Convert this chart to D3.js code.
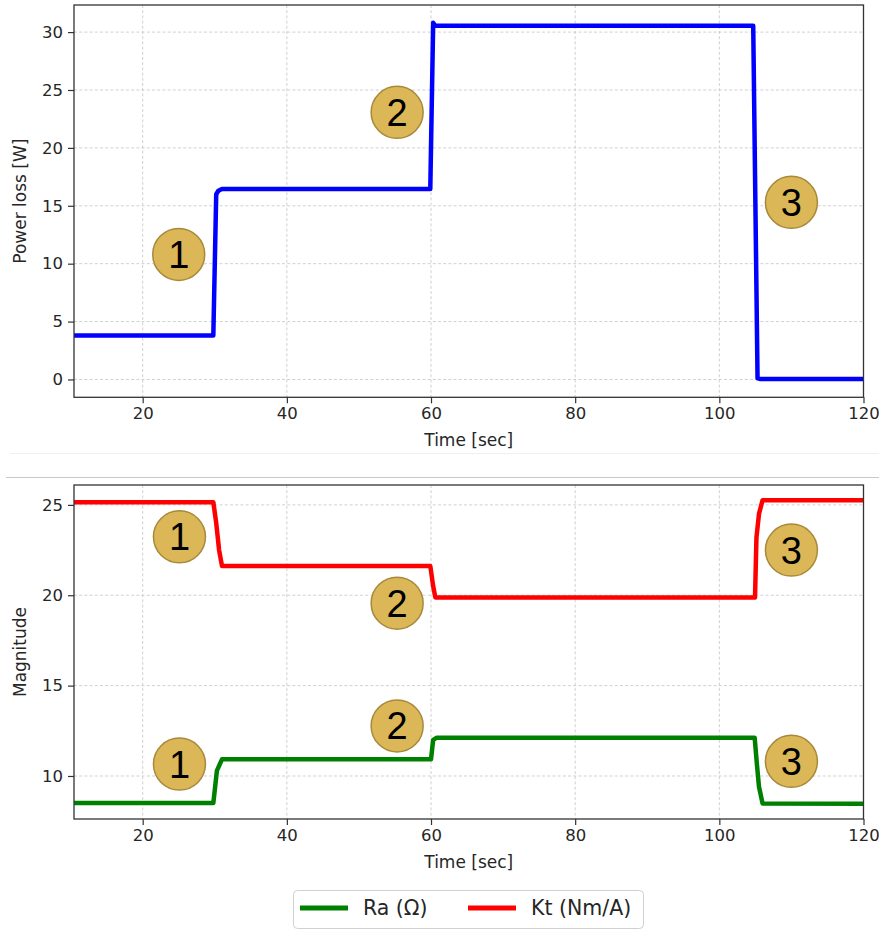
<!DOCTYPE html>
<html>
<head>
<meta charset="utf-8">
<script src="https://cdn.jsdelivr.net/npm/d3@7"></script>
<style>
  html, body { margin: 0; padding: 0; background: #fff; }
  svg { display: block; }
  text { font-family: "DejaVu Sans", sans-serif; }
</style>
</head>
<body>
<script>
// ---------- DATA ----------
const powerTime = [10.47, 29.8, 30.2, 30.5, 31.0, 59.9, 60.3, 60.6, 104.7, 105.3, 105.6, 120];
const powerLoss = [3.8, 3.8, 16.0, 16.3, 16.45, 16.45, 30.8, 30.55, 30.55, 0.1, 0.05, 0.05];

const raTime = [10.47, 29.8, 30.3, 31.0, 60.0, 60.3, 60.8, 104.9, 105.2, 105.5, 106.0, 120];
const raValues = [8.5, 8.5, 10.3, 10.92, 10.92, 12.0, 12.12, 12.12, 10.7, 9.4, 8.48, 8.46];

const ktTime = [10.47, 29.8, 30.2, 30.6, 31.0, 59.9, 60.3, 60.6, 104.95, 105.15, 105.5, 106.0, 120];
const ktValues = [25.15, 25.15, 24.0, 22.5, 21.62, 21.62, 20.5, 19.88, 19.88, 23.2, 24.5, 25.26, 25.26];

const xTicks = [20, 40, 60, 80, 100, 120];
const powerTicks = [0, 5, 10, 15, 20, 25, 30];
const magTicks = [10, 15, 20, 25];

const topMarkers = [ {n: "1", t: 25, v: 10.8}, {n: "2", t: 55.3, v: 23.07}, {n: "3", t: 110, v: 15.3} ];
const botMarkers = [ {n: "1", t: 25.1, v: 23.23}, {n: "1", t: 25.1, v: 10.66},
                     {n: "2", t: 55.3, v: 19.56}, {n: "2", t: 55.3, v: 12.77},
                     {n: "3", t: 110, v: 22.5}, {n: "3", t: 110, v: 10.81} ];

const seriesNames = ["Ra (\u03A9)", "Kt (Nm/A)"];
const seriesColors = ["#008000", "#ff0000"];

// ---------- LAYOUT ----------
const W = 879, H = 930;
const svg = d3.select("body").append("svg").attr("width", W).attr("height", H);
svg.append("rect").attr("width", W).attr("height", H).attr("fill", "#fff");

// separators
svg.append("line").attr("x1", 10).attr("x2", W).attr("y1", 453.5).attr("y2", 453.5)
  .attr("stroke", "#f0f0f0").attr("stroke-width", 1);
svg.append("line").attr("x1", 6).attr("x2", W).attr("y1", 477.5).attr("y2", 477.5)
  .attr("stroke", "#c8c8c8").attr("stroke-width", 1.2);

const FS = 16.5;
const LFS = 17;

function panel(cfg) {
  const { left, right, top, bottom, xDomain, yDomain, yTicks, yLabel } = cfg;
  const x = d3.scaleLinear().domain(xDomain).range([left, right]);
  const y = d3.scaleLinear().domain(yDomain).range([bottom, top]);
  const g = svg.append("g");

  // grid
  const grid = g.append("g").attr("stroke", "#c4c4c4").attr("stroke-width", 0.8)
    .attr("stroke-dasharray", "3,2.2");
  xTicks.forEach(t => grid.append("line").attr("x1", x(t)).attr("x2", x(t))
    .attr("y1", top).attr("y2", bottom));
  yTicks.forEach(t => grid.append("line").attr("x1", left).attr("x2", right)
    .attr("y1", y(t)).attr("y2", y(t)));

  // axes
  const xAxis = d3.axisBottom(x).tickValues(xTicks).tickSize(6).tickPadding(4).tickFormat(d3.format("d"));
  const yAxis = d3.axisLeft(y).tickValues(yTicks).tickSize(6).tickPadding(5).tickFormat(d3.format("d"));
  const gx = g.append("g").attr("transform", `translate(0,${bottom})`).call(xAxis);
  const gy = g.append("g").attr("transform", `translate(${left},0)`).call(yAxis);
  [gx, gy].forEach(a => {
    a.select(".domain").remove();
    a.selectAll(".tick line").attr("stroke", "#333").attr("stroke-width", 1.2);
    a.selectAll(".tick text").attr("fill", "#262626").style("font-size", FS + "px")
      .style("font-family", "DejaVu Sans, sans-serif");
  });

  // labels
  g.append("text").attr("x", (left + right) / 2).attr("y", bottom + 49)
    .attr("text-anchor", "middle").attr("fill", "#262626").style("font-size", LFS + "px")
    .text("Time [sec]");
  g.append("text").attr("transform", `translate(20,${(top + bottom) / 2}) rotate(-90)`)
    .attr("text-anchor", "middle").attr("dominant-baseline", "central")
    .attr("fill", "#262626").style("font-size", LFS + "px").text(yLabel);

  return { g, x, y, left, right, top, bottom };
}

function frame(p) {
  p.g.append("rect").attr("x", p.left).attr("y", p.top)
    .attr("width", p.right - p.left).attr("height", p.bottom - p.top)
    .attr("fill", "none").attr("stroke", "#333").attr("stroke-width", 1.3);
}

function drawLine(p, ts, vs, color) {
  const pts = ts.map((t, i) => [t, vs[i]]);
  const line = d3.line().x(d => p.x(d[0])).y(d => p.y(d[1]));
  p.g.append("path").datum(pts).attr("d", line).attr("fill", "none")
    .attr("stroke", color).attr("stroke-width", 4.5)
    .attr("stroke-linejoin", "round").attr("stroke-linecap", "butt");
}

function markers(p, list) {
  list.forEach(m => {
    const cx = p.x(m.t), cy = p.y(m.v);
    p.g.append("circle").attr("cx", cx).attr("cy", cy).attr("r", 26)
      .attr("fill", "#dcb757").attr("stroke", "#a8893c").attr("stroke-width", 1.5);
    p.g.append("text").attr("x", cx).attr("y", cy + 13.5)
      .attr("text-anchor", "middle").attr("fill", "#000")
      .style("font-family", "Liberation Sans, Arial, sans-serif").style("font-size", "38px")
      .text(m.n);
  });
}

// ---------- TOP PANEL ----------
const p1 = panel({ left: 74, right: 863.5, top: 5, bottom: 397.3,
  xDomain: [10.47, 120], yDomain: [-1.54, 32.34], yTicks: powerTicks, yLabel: "Power loss [W]" });
drawLine(p1, powerTime, powerLoss, "#0000ff");
frame(p1);
markers(p1, topMarkers);

// ---------- BOTTOM PANEL ----------
const p2 = panel({ left: 74, right: 863.5, top: 485, bottom: 819,
  xDomain: [10.47, 120], yDomain: [7.62, 26.1], yTicks: magTicks, yLabel: "Magnitude" });
drawLine(p2, raTime, raValues, seriesColors[0]);
drawLine(p2, ktTime, ktValues, seriesColors[1]);
frame(p2);
markers(p2, botMarkers);

// ---------- LEGEND ----------
const lg = svg.append("g");
lg.append("rect").attr("x", 293.5).attr("y", 890.5).attr("width", 350).attr("height", 38)
  .attr("rx", 4).attr("fill", "#fff").attr("stroke", "#d0d0d0").attr("stroke-width", 1);
const lx = [300, 468], tx = [363, 531];
seriesNames.forEach((name, i) => {
  lg.append("line").attr("x1", lx[i]).attr("x2", lx[i] + 48).attr("y1", 908).attr("y2", 908)
    .attr("stroke", seriesColors[i]).attr("stroke-width", 5);
  lg.append("text").attr("x", tx[i]).attr("y", 908).attr("dominant-baseline", "central")
    .attr("fill", "#262626").style("font-size", "20.5px").text(name);
});
</script>
</body>
</html>
